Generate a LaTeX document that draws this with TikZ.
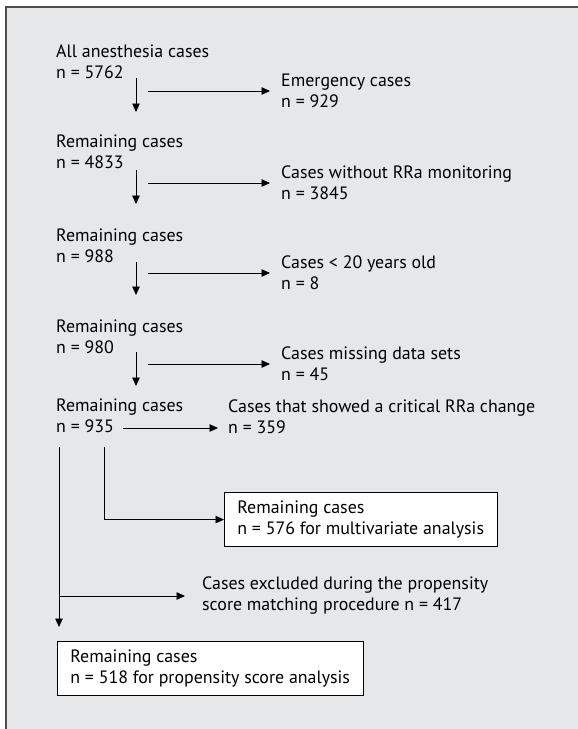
\documentclass[tikz,border=0pt]{standalone}
\usepackage{fontspec}
\setmainfont{PT Sans}
\usepackage{tikz}
\usetikzlibrary{arrows.meta,calc}
\definecolor{panelgrey}{HTML}{E6E7E8}
\definecolor{framegrey}{HTML}{4D4D4D}
\newcommand{\flowfont}{\fontsize{17.9}{21}\selectfont}
\tikzset{
  arr/.style={draw=black, line width=0.9pt, -{Triangle[length=8.5pt,width=7.5pt]}},
  stage/.style={anchor=north west, inner sep=0pt, align=left, font=\flowfont},
  excl/.style={anchor=west, inner ysep=0pt, inner xsep=11pt, align=left, font=\flowfont},
  resbox/.style={draw=black, fill=white, line width=0.8pt, anchor=north west,
    inner xsep=13pt, inner ysep=8.5pt, align=left, font=\flowfont}
}

\begin{document}
\begin{tikzpicture}[x=1pt, y=-1pt]
  \useasboundingbox (0,0) rectangle (578,729);
  % panel
  \fill[panelgrey] (6,7) rectangle (578,729);
  \draw[framegrey, line width=1.6pt] (6,729) -- (6,7) -- (578,7);

  % left column
  \node[stage] (s0) at (56,45)  {All anesthesia cases\\n = 5762};
  \node[stage] (s1) at (56,135) {Remaining cases\\n = 4833};
  \node[stage] (s2) at (56,229) {Remaining cases\\n = 988};
  \node[stage] (s3) at (56,320) {Remaining cases\\n = 980};
  \node[stage] (s4) at (56,399) {Remaining cases\\n = 935};

  % exclusions
  \node[excl] (e0) at (270,91)  {Emergency cases\\n = 929};
  \node[excl] (e1) at (270,183) {Cases without RRa monitoring\\n = 3845};
  \node[excl] (e2) at (270,273) {Cases < 20 years old\\n = 8};
  \node[excl] (e3) at (270,364) {Cases missing data sets\\n = 45};
  \node[excl, inner xsep=10pt] (e4) at (218,417) {Cases that showed a critical RRa change\\n = 359};
  \node[excl, inner xsep=17pt] (x1) at (185,596) {Cases excluded during the propensity\\score matching procedure n = 417};

  % results
  \node[resbox] (b1) at (224,492) {Remaining cases\\n = 576 for multivariate analysis};
  \node[resbox] (b2) at (57,641)  {Remaining cases\\n = 518 for propensity score analysis};

  % arrows
  \coordinate (v0) at (136,78);
  \coordinate (v1) at (136,170);
  \coordinate (v2) at (136,262);
  \coordinate (v3) at (136,352);
  \draw[arr] (v0) -- ++(0,34);
  \draw[arr] (v1) -- ++(0,34);
  \draw[arr] (v2) -- ++(0,33);
  \draw[arr] (v3) -- ++(0,34);

  \coordinate (h0) at (148,91);
  \coordinate (h1) at (148,183);
  \coordinate (h2) at (148,273);
  \coordinate (h3) at (148,364);
  \coordinate (h4) at (123,428);
  \draw[arr] (h0) -- (e0.west);
  \draw[arr] (h1) -- (e1.west);
  \draw[arr] (h2) -- (e2.west);
  \draw[arr] (h3) -- (e3.west);
  \draw[arr] (h4) -- (e4.west |- h4);

  \coordinate (d1) at (59,447);
  \coordinate (d2) at (104,447);
  \draw[arr] (d2) |- (b1.west);
  \draw[arr] (d1 |- x1.west) -- (x1.west);
  \draw[arr, shorten >=14pt] (d1) -- (d1 |- b2.north);
\end{tikzpicture}
\end{document}
